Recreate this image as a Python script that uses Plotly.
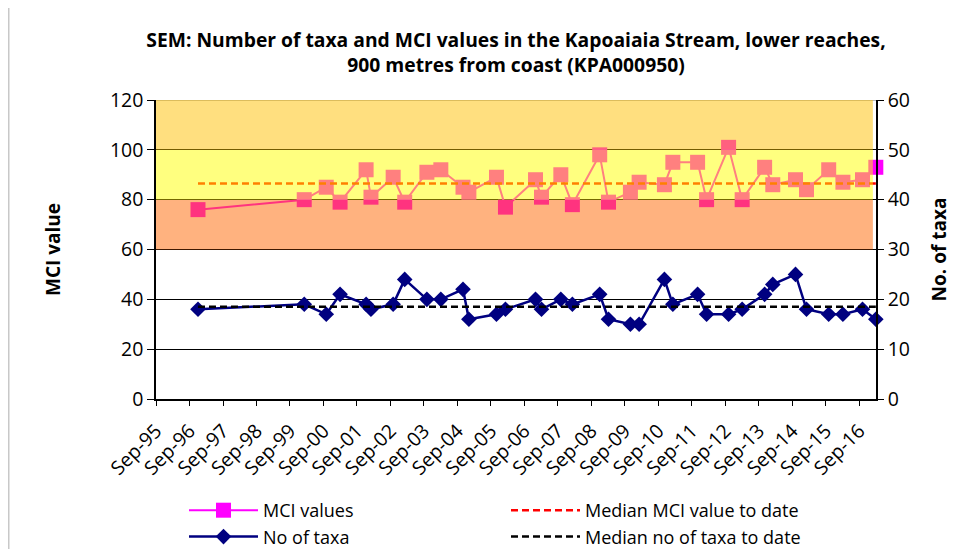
import plotly.graph_objects as go

# ---------------- data ----------------
DATES = [
    "1996-12-02", "2000-02-04", "2000-10-01", "2001-03-01", "2001-12-10", "2002-02-01",
    "2002-10-01", "2003-02-04", "2003-10-04", "2004-03-04", "2004-11-01", "2005-01-04",
    "2005-11-01", "2006-02-07", "2007-01-01", "2007-03-07", "2007-10-04", "2008-02-07",
    "2008-12-01", "2009-03-07", "2009-11-01", "2010-02-04", "2010-11-07", "2011-02-07",
    "2011-11-04", "2012-02-10", "2012-10-07", "2013-03-04", "2013-11-04", "2014-02-01",
    "2014-10-07", "2015-02-04", "2015-10-04", "2016-03-07", "2016-10-07", "2017-03-01",
]
MCI_VALUES = [
    76, 80, 85, 79, 92, 81,
    89, 79, 91, 92, 85, 83,
    89, 77, 88, 81, 90, 78,
    98, 79, 83, 87, 86, 95,
    95, 80, 101, 80, 93, 86,
    88, 84, 92, 87, 88, 93,
]
NO_OF_TAXA = [
    18, 19, 17, 21, 19, 18,
    19, 24, 20, 20, 22, 16,
    17, 18, 20, 18, 20, 19,
    21, 16, 15, 15, 24, 19,
    21, 17, 17, 18, 21, 23,
    25, 18, 17, 17, 18, 16,
]
MEDIAN_MCI = 86.5
MEDIAN_TAXA = 18.5

TICK_DATES = [
    "1995-09-01", "1996-09-01", "1997-09-01", "1998-09-01", "1999-09-01", "2000-09-01",
    "2001-09-01", "2002-09-01", "2003-09-01", "2004-09-01", "2005-09-01", "2006-09-01",
    "2007-09-01", "2008-09-01", "2009-09-01", "2010-09-01", "2011-09-01", "2012-09-01",
    "2013-09-01", "2014-09-01", "2015-09-01", "2016-09-01",
]
TICK_LABELS = [
    "Sep-95", "Sep-96", "Sep-97", "Sep-98", "Sep-99", "Sep-00",
    "Sep-01", "Sep-02", "Sep-03", "Sep-04", "Sep-05", "Sep-06",
    "Sep-07", "Sep-08", "Sep-09", "Sep-10", "Sep-11", "Sep-12",
    "Sep-13", "Sep-14", "Sep-15", "Sep-16",
]
X_RANGE = ["1995-09-01", "2017-03-03"]
BAND_END = "2017-01-28"
BANDS = [(60, 80, "#FF6600"), (80, 100, "#FFFF00"), (100, 120, "#FFC000")]

TITLE = ("SEM: Number of taxa and MCI values in the Kapoaiaia Stream, lower reaches,<br>"
         "900 metres from coast (KPA000950)")

FONT = "Open Sans"
TICK_SIZE = 19.5

# figure geometry (page body has an 8px margin)
W, H = 964, 541
ML, MR, MT, MB = 148, 96, 92, 150
PW = W - ML - MR
PH = H - MT - MB

# ---------------- figure ----------------
fig = go.Figure()

fig.add_trace(go.Scatter(
    x=DATES, y=MCI_VALUES, name="MCI values", mode="lines+markers",
    line=dict(color="#FF00FF", width=2),
    marker=dict(symbol="square", size=15, color="#FF00FF"),
    cliponaxis=False,
))
fig.add_trace(go.Scatter(
    x=[DATES[0], DATES[-1]], y=[MEDIAN_MCI, MEDIAN_MCI], name="Median MCI value to date",
    mode="lines", line=dict(color="#FF0000", width=2.5, dash="7px,4px"),
))
fig.add_trace(go.Scatter(
    x=DATES, y=NO_OF_TAXA, name="No of taxa", mode="lines+markers", yaxis="y2",
    line=dict(color="#000080", width=2.5),
    marker=dict(symbol="diamond", size=12, color="#000080"),
    cliponaxis=False,
))
fig.add_trace(go.Scatter(
    x=[DATES[0], DATES[-1]], y=[MEDIAN_TAXA, MEDIAN_TAXA], name="Median no of taxa to date",
    mode="lines", yaxis="y2", line=dict(color="#000000", width=2.5, dash="7px,4px"),
))

shapes = [
    dict(type="line", xref="paper", yref="y", x0=0, x1=1, y0=120, y1=120,
         line=dict(color="#A0A0A0", width=1.5), layer="above"),
    dict(type="line", xref="paper", yref="paper", x0=(0.75 - ML) / PW, x1=(0.75 - ML) / PW,
         y0=-0.55, y1=1.35, line=dict(color="#C8C8C8", width=1.5)),
]
for lo, hi, col in BANDS:
    shapes.append(dict(type="rect", xref="x", yref="y", x0=X_RANGE[0], x1=BAND_END,
                       y0=lo, y1=hi, fillcolor=col, opacity=0.5, line=dict(width=0),
                       layer="above"))

fig.update_layout(
    width=W, height=H,
    margin=dict(l=ML, r=MR, t=MT, b=MB, autoexpand=False),
    paper_bgcolor="white", plot_bgcolor="white",
    font=dict(family=FONT, size=18, color="#000000"),
    title=dict(text=TITLE, x=0.5, xref="paper", xanchor="center",
               y=1 - 39 / H, yref="container", yanchor="top",
               font=dict(family=FONT, size=19.3, color="#000000", weight="bold")),
    xaxis=dict(type="date", range=X_RANGE, tickmode="array", tickvals=TICK_DATES,
               ticktext=TICK_LABELS, tickangle=-45, ticks="outside", ticklen=5,
               ticklabelstandoff=6,
               tickcolor="#000000", showline=True, linecolor="#000000", linewidth=1.5,
               showgrid=False, zeroline=False, tickfont=dict(size=TICK_SIZE)),
    yaxis=dict(range=[0, 120], tickvals=[0, 20, 40, 60, 80, 100, 120], ticks="outside",
               ticklen=7, tickcolor="#000000", showline=True, linecolor="#000000",
               linewidth=1.5, showgrid=True, gridcolor="#000000", gridwidth=1,
               zeroline=False, tickfont=dict(size=TICK_SIZE),
               title=dict(text="MCI value", font=dict(size=19, weight="bold"), standoff=44)),
    yaxis2=dict(range=[0, 60], tickvals=[0, 10, 20, 30, 40, 50, 60], overlaying="y",
                side="right", ticks="outside", ticklen=6, tickcolor="#000000",
                showline=True, linecolor="#000000", linewidth=1.5, showgrid=False,
                zeroline=False, tickfont=dict(size=TICK_SIZE),
                title=dict(text="No. of taxa", font=dict(size=19, weight="bold"), standoff=24)),
    legend=dict(orientation="h", x=(176 - ML) / PW, xanchor="left",
                y=(MT + PH - 484) / PH, yanchor="top", entrywidth=238, entrywidthmode="pixels",
                itemwidth=69, font=dict(size=18), bgcolor="rgba(0,0,0,0)",
                traceorder="normal"),
    shapes=shapes,
    showlegend=True,
)

fig.write_html("out.html")
